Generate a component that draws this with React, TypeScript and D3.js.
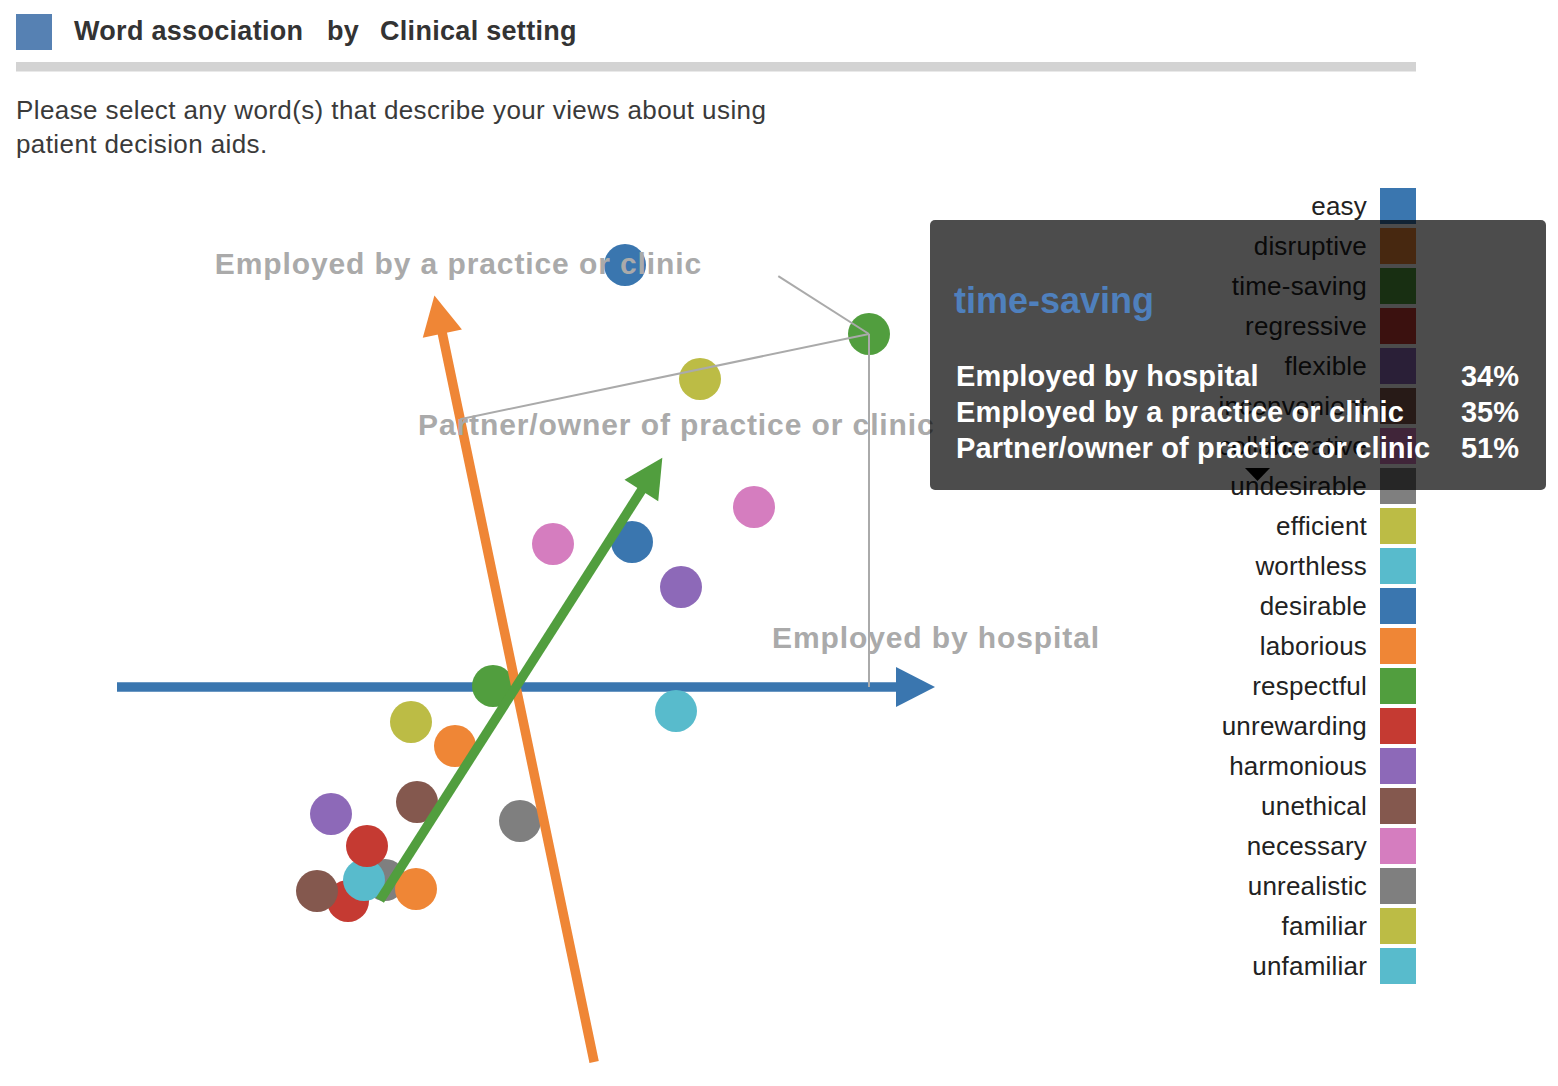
import React from 'react';
import * as d3 from 'd3';

// ---- data ----
const words = ['easy', 'disruptive', 'time-saving', 'regressive', 'flexible', 'inconvenient', 'collaborative', 'undesirable', 'efficient', 'worthless', 'desirable', 'laborious', 'respectful', 'unrewarding', 'harmonious', 'unethical', 'necessary', 'unrealistic', 'familiar', 'unfamiliar'];
const dim1 = [1.09, -0.61, 3.53, -1.68, 1.65, -1.99, 2.38, -1.31, 1.84, -1.52, 1.16, -1.0, -0.23, -1.49, -1.85, -0.99, 0.37, 0.04, -1.05, 1.6];
const dim2 = [4.22, -0.59, 3.53, -2.14, 1.0, -2.04, 1.8, -1.93, 3.08, -1.93, 1.45, -2.02, 0.01, -1.59, -1.27, -1.15, 1.43, -1.34, -0.35, -0.24];
const palette = ['#3a76af', '#ef8636', '#519e3e', '#c53a32', '#8d69b8', '#84584e', '#d57dbf', '#7f7f7f', '#bcbc45', '#58bbcc'];

const axisNames = ['Employed by hospital', 'Employed by a practice or clinic', 'Partner/owner of practice or clinic'];
const axisDx = [1, -0.204, 0.538];
const axisDy = [0, 0.979, 0.843];
const axisMin = [-3.99, -3.83, -2.53];
const axisMax = [4.19, 4.0, 2.72];
const axisColors = ['#3a76af', '#ef8636', '#519e3e'];

const highlighted = 'time-saving';
const tooltipValues = ['34%', '35%', '51%'];

const titleParts = ['Word association', 'by', 'Clinical setting'];
const subtitleLines = ['Please select any word(s) that describe your views about using', 'patient decision aids.'];

// ---- layout ----
const W = 1558;
const H = 1086;
const FONT = "'Liberation Sans', Arial, Helvetica, sans-serif";
const labelOffsets: [number, number][] = [[1, -39], [24, -21], [14, -23]];

const x = d3.scaleLinear().domain([-5, 5]).range([16, 1016]);
const y = d3.scaleLinear().domain([-5, 5]).range([1187, 187]);
const color = d3.scaleOrdinal<number, string>().domain(d3.range(10)).range(palette);

const HEAD_LEN = 39;
const HEAD_HALF = 20;
const LINE_W = 9.5;

function axisGeom(i: number) {
  const S = [x(axisMin[i] * axisDx[i]), y(axisMin[i] * axisDy[i])];
  const T = [x(axisMax[i] * axisDx[i]), y(axisMax[i] * axisDy[i])];
  const len = Math.hypot(T[0] - S[0], T[1] - S[1]);
  const u = [(T[0] - S[0]) / len, (T[1] - S[1]) / len];
  const n = [-u[1], u[0]];
  const B = [T[0] - u[0] * HEAD_LEN, T[1] - u[1] * HEAD_LEN];
  const shaftEnd = [B[0] + u[0] * 2, B[1] + u[1] * 2];
  const head = d3.line()([
    [T[0], T[1]],
    [B[0] + n[0] * HEAD_HALF, B[1] + n[1] * HEAD_HALF],
    [B[0] - n[0] * HEAD_HALF, B[1] - n[1] * HEAD_HALF],
  ]) + 'Z';
  return { S, T, shaftEnd, head };
}

function Axis({ i }: { i: number }) {
  const g = axisGeom(i);
  return (
    <g>
      <line x1={g.S[0]} y1={g.S[1]} x2={g.shaftEnd[0]} y2={g.shaftEnd[1]} stroke={axisColors[i]} strokeWidth={LINE_W} />
      <path d={g.head} fill={axisColors[i]} />
    </g>
  );
}

export default function App() {
  const hi = words.indexOf(highlighted);
  const hp = [dim1[hi], dim2[hi]];
  const feet = axisNames.map((_, i) => {
    const t = hp[0] * axisDx[i] + hp[1] * axisDy[i];
    return [x(t * axisDx[i]), y(t * axisDy[i])];
  });

  const legendX = 1380;
  const legendY0 = 188;
  const legendStep = 40;

  return (
    <svg width={W} height={H} style={{ position: 'absolute', left: 0, top: 0, display: 'block' }} fontFamily={FONT}>
      <rect x={0} y={0} width={W} height={H} fill="#fff" />

      {/* header */}
      <rect x={16} y={14} width={36} height={36} fill="#5681b3" />
      <text x={74} y={40} fontSize={27} fontWeight="bold" fill="#333" letterSpacing={0.3}>{titleParts[0]}</text>
      <text x={327} y={40} fontSize={27} fontWeight="bold" fill="#333" letterSpacing={0.3}>{titleParts[1]}</text>
      <text x={380} y={40} fontSize={27} fontWeight="bold" fill="#333" letterSpacing={0.3}>{titleParts[2]}</text>
      <rect x={16} y={62} width={1400} height={9.5} fill="#d3d3d3" />
      {subtitleLines.map((l, i) => (
        <text key={i} x={16} y={119 + i * 34} fontSize={26} fill="#3a3a3a" letterSpacing={0.4}>{l}</text>
      ))}

      {/* first axis under points */}
      <Axis i={0} />

      {/* points */}
      {words.map((w, i) => (
        <circle key={w} cx={x(dim1[i])} cy={y(dim2[i])} r={21} fill={color(i % 10)} />
      ))}

      <Axis i={1} />
      <Axis i={2} />

      {/* axis labels */}
      {axisNames.map((name, i) => {
        const g = axisGeom(i);
        return (
          <text key={name} x={g.T[0] + labelOffsets[i][0]} y={g.T[1] + labelOffsets[i][1]} textAnchor="middle"
            fontSize={30} fontWeight="bold" fill="#aaaaaa" letterSpacing={0.9}>{name}</text>
        );
      })}

      {/* projection lines */}
      {feet.map((f, i) => (
        <line key={i} x1={x(hp[0])} y1={y(hp[1])} x2={f[0]} y2={f[1]} stroke="#aaaaaa" strokeWidth={2} />
      ))}

      {/* legend */}
      {words.map((w, i) => (
        <g key={w}>
          <rect x={legendX} y={legendY0 + i * legendStep} width={36} height={36} fill={color(i % 10)} />
          <text x={1367} y={legendY0 + i * legendStep + 27} textAnchor="end" fontSize={26} fill="#222" letterSpacing={0.2}>{w}</text>
        </g>
      ))}
      <path d="M1245,468L1270,468L1257.5,481Z" fill="#000" />

      {/* tooltip */}
      <rect x={930} y={220} width={616} height={270} rx={5} fill="rgba(0,0,0,0.7)" />
      <text x={954} y={313} fontSize={36} fontWeight="bold" fill="#4f80bd">{highlighted}</text>
      {axisNames.map((name, i) => (
        <g key={name}>
          <text x={956} y={386 + i * 36} fontSize={29} fontWeight="bold" fill="#fff" letterSpacing={0.15}>{name}</text>
          <text x={1519} y={386 + i * 36} fontSize={29} fontWeight="bold" fill="#fff" textAnchor="end">{tooltipValues[i]}</text>
        </g>
      ))}
    </svg>
  );
}
